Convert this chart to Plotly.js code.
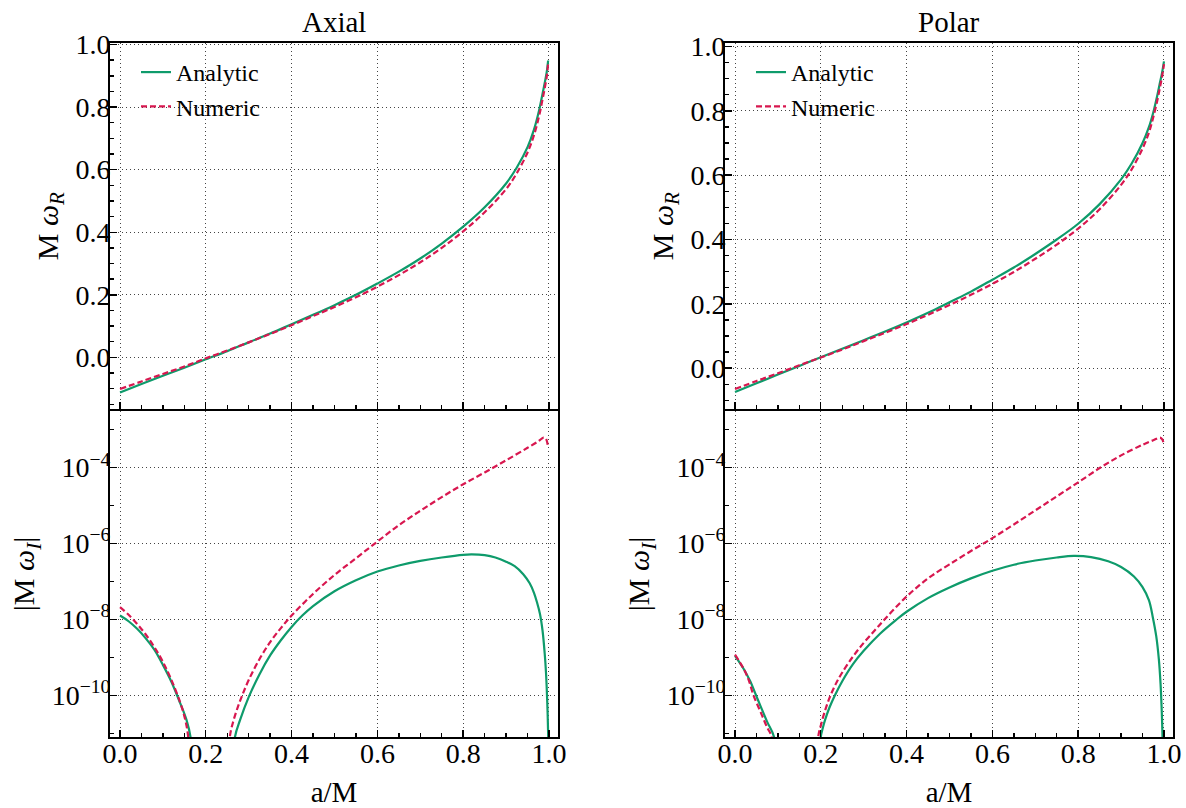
<!DOCTYPE html>
<html>
<head>
<meta charset="utf-8">
<script src="https://cdn.plot.ly/plotly-3.0.1.min.js"></script>
<style>html,body{margin:0;padding:0;background:#fff;}#chart{width:1186px;height:808px;}</style>
</head>
<body>
<div id="chart"></div>
<script>
// ---------------- DATA ----------------
const panelTitles = ["Axial", "Polar"];
const seriesNames = ["Analytic", "Numeric"];
const xTickVals = [0, 0.2, 0.4, 0.6, 0.8, 1.0];
const yTopTickVals = [0, 0.2, 0.4, 0.6, 0.8, 1.0];
const yLogTickVals = [1e-10, 1e-8, 1e-6, 1e-4];
const yLogTickText = ["10<sup>−10</sup>", "10<sup>−8</sup>", "10<sup>−6</sup>", "10<sup>−4</sup>"];
const yLogMinorVals = [1e-11, 1e-9, 1e-7, 1e-5, 1e-3];

// Axial, M omega_R
const axialRealX = [0, 0.05, 0.1, 0.15, 0.2, 0.25, 0.3, 0.35, 0.4, 0.45, 0.5, 0.55, 0.6, 0.65, 0.7, 0.75, 0.8, 0.85, 0.9, 0.925, 0.95, 0.965, 0.977, 0.985, 0.99, 0.995, 0.998];
const axialRealAnalytic = [-0.112, -0.085, -0.059, -0.033, -0.006, 0.020, 0.048, 0.076, 0.106, 0.136, 0.167, 0.200, 0.236, 0.274, 0.316, 0.364, 0.418, 0.480, 0.556, 0.607, 0.672, 0.728, 0.790, 0.843, 0.877, 0.915, 0.949];
const axialRealNumeric = [-0.101, -0.077, -0.053, -0.029, -0.003, 0.022, 0.048, 0.075, 0.103, 0.132, 0.161, 0.192, 0.226, 0.263, 0.304, 0.350, 0.403, 0.464, 0.538, 0.589, 0.655, 0.710, 0.772, 0.825, 0.860, 0.900, 0.940];

// Polar, M omega_R
const polarRealX = [0, 0.05, 0.1, 0.15, 0.2, 0.25, 0.3, 0.35, 0.4, 0.45, 0.5, 0.55, 0.6, 0.65, 0.7, 0.75, 0.8, 0.85, 0.9, 0.925, 0.95, 0.965, 0.975, 0.985, 0.99, 0.995, 1.0];
const polarRealAnalytic = [-0.074, -0.047, -0.020, 0.007, 0.034, 0.060, 0.087, 0.114, 0.142, 0.172, 0.205, 0.238, 0.275, 0.313, 0.355, 0.400, 0.449, 0.510, 0.587, 0.637, 0.700, 0.750, 0.795, 0.852, 0.884, 0.915, 0.954];
const polarRealNumeric = [-0.065, -0.040, -0.016, 0.009, 0.033, 0.058, 0.084, 0.110, 0.137, 0.166, 0.196, 0.228, 0.262, 0.299, 0.340, 0.384, 0.434, 0.494, 0.570, 0.619, 0.683, 0.733, 0.780, 0.836, 0.869, 0.903, 0.945];

// |M omega_I| given as log10 exponents; each curve has two branches (it dips through zero)
const axialImagAnalyticX1 = [0, 0.02, 0.04, 0.06, 0.08, 0.10, 0.12, 0.14, 0.155, 0.165, 0.168];
const axialImagAnalyticLog1 = [-7.90, -8.05, -8.25, -8.5, -8.8, -9.2, -9.65, -10.2, -10.65, -11.15, -12.5];
const axialImagAnalyticX2 = [0.264, 0.268, 0.28, 0.30, 0.325, 0.35, 0.375, 0.40, 0.425, 0.45, 0.5, 0.55, 0.6, 0.65, 0.7, 0.75, 0.8, 0.82, 0.85, 0.875, 0.9, 0.92, 0.94, 0.955, 0.965, 0.972, 0.979, 0.985, 0.99, 0.993, 0.996, 0.998, 1.0];
const axialImagAnalyticLog2 = [-12.5, -11.1, -10.65, -10.05, -9.45, -8.95, -8.55, -8.2, -7.9, -7.65, -7.26, -6.97, -6.74, -6.58, -6.46, -6.37, -6.30, -6.29, -6.31, -6.37, -6.48, -6.60, -6.81, -7.05, -7.3, -7.55, -7.86, -8.3, -8.9, -9.4, -10.2, -11.0, -12.5];

const axialImagNumericX1 = [0, 0.02, 0.04, 0.06, 0.08, 0.10, 0.12, 0.14, 0.15, 0.159, 0.162];
const axialImagNumericLog1 = [-7.68, -7.88, -8.12, -8.4, -8.73, -9.12, -9.6, -10.18, -10.55, -11.1, -12.5];
const axialImagNumericX2 = [0.252, 0.256, 0.265, 0.275, 0.285, 0.30, 0.325, 0.35, 0.375, 0.40, 0.45, 0.5, 0.55, 0.6, 0.65, 0.7, 0.75, 0.8, 0.85, 0.9, 0.95, 0.975, 0.987, 0.992, 0.995, 0.998];
const axialImagNumericLog2 = [-12.5, -11.1, -10.65, -10.3, -10.0, -9.6, -9.05, -8.6, -8.23, -7.9, -7.33, -6.83, -6.39, -5.95, -5.52, -5.14, -4.78, -4.44, -4.13, -3.81, -3.48, -3.31, -3.21, -3.23, -3.3, -3.47];

const polarImagAnalyticX1 = [0, 0.02, 0.035, 0.049, 0.06, 0.075, 0.091, 0.095];
const polarImagAnalyticLog1 = [-8.96, -9.3, -9.62, -10.0, -10.3, -10.7, -11.1, -12.5];
const polarImagAnalyticX2 = [0.197, 0.20, 0.205, 0.21, 0.22, 0.233, 0.25, 0.275, 0.3, 0.338, 0.375, 0.4, 0.45, 0.5, 0.55, 0.6, 0.65, 0.7, 0.75, 0.79, 0.83, 0.87, 0.9, 0.93, 0.95, 0.965, 0.974, 0.982, 0.988, 0.992, 0.995, 0.997, 0.999];
const polarImagAnalyticLog2 = [-12.5, -11.1, -10.85, -10.65, -10.33, -10.0, -9.63, -9.18, -8.83, -8.38, -8.02, -7.8, -7.44, -7.16, -6.92, -6.72, -6.56, -6.45, -6.37, -6.33, -6.36, -6.47, -6.62, -6.87, -7.15, -7.5, -7.95, -8.45, -9.05, -9.7, -10.5, -11.3, -12.5];

const polarImagNumericX1 = [0, 0.02, 0.032, 0.043, 0.06, 0.075, 0.0855, 0.089];
const polarImagNumericLog1 = [-8.93, -9.3, -9.6, -10.0, -10.45, -10.85, -11.1, -12.5];
const polarImagNumericX2 = [0.19, 0.194, 0.2, 0.21, 0.221, 0.235, 0.25, 0.275, 0.3, 0.325, 0.344, 0.37, 0.4, 0.43, 0.46, 0.5, 0.55, 0.6, 0.65, 0.7, 0.75, 0.8, 0.852, 0.9, 0.95, 0.975, 0.991, 0.996, 1.0];
const polarImagNumericLog2 = [-12.5, -11.1, -10.8, -10.4, -10.05, -9.7, -9.4, -8.98, -8.62, -8.3, -8.06, -7.74, -7.4, -7.1, -6.84, -6.55, -6.2, -5.86, -5.5, -5.13, -4.76, -4.39, -4.0, -3.68, -3.4, -3.28, -3.21, -3.26, -3.39];

// ---------------- STYLE ----------------
const W = 1186, H = 808;
const GREEN = '#0E9B6B', RED = '#D8174F';
const FONT = '"Liberation Serif", "Times New Roman", serif';
const px2x = p => p / W;
const px2y = p => 1 - p / H;

const leftX = [px2x(110), px2x(558)];
const rightX = [px2x(725), px2x(1173)];
const topY = [px2y(409), px2y(43.3)];
const botY = [px2y(737), px2y(411)];

function pow10(a) { return a.map(v => Math.pow(10, v)); }
function joinBranches(x1, y1, x2, y2) { return { x: x1.concat([null], x2), y: y1.concat([null], y2) }; }

const greenLine = { color: GREEN, width: 2.2, shape: 'spline', smoothing: 1 };
const redLine = { color: RED, width: 2.2, dash: '6px,3px', shape: 'spline', smoothing: 1 };

const aiA = joinBranches(axialImagAnalyticX1, pow10(axialImagAnalyticLog1), axialImagAnalyticX2, pow10(axialImagAnalyticLog2));
const aiN = joinBranches(axialImagNumericX1, pow10(axialImagNumericLog1), axialImagNumericX2, pow10(axialImagNumericLog2));
const piA = joinBranches(polarImagAnalyticX1, pow10(polarImagAnalyticLog1), polarImagAnalyticX2, pow10(polarImagAnalyticLog2));
const piN = joinBranches(polarImagNumericX1, pow10(polarImagNumericLog1), polarImagNumericX2, pow10(polarImagNumericLog2));

const data = [
  { x: axialRealX, y: axialRealAnalytic, xaxis: 'x', yaxis: 'y', mode: 'lines', name: seriesNames[0], line: greenLine, legend: 'legend' },
  { x: axialRealX, y: axialRealNumeric, xaxis: 'x', yaxis: 'y', mode: 'lines', name: seriesNames[1], line: redLine, legend: 'legend' },
  { x: aiA.x, y: aiA.y, xaxis: 'x2', yaxis: 'y2', mode: 'lines', name: seriesNames[0], line: greenLine, showlegend: false, connectgaps: false },
  { x: aiN.x, y: aiN.y, xaxis: 'x2', yaxis: 'y2', mode: 'lines', name: seriesNames[1], line: redLine, showlegend: false, connectgaps: false },
  { x: polarRealX, y: polarRealAnalytic, xaxis: 'x3', yaxis: 'y3', mode: 'lines', name: seriesNames[0], line: greenLine, legend: 'legend2' },
  { x: polarRealX, y: polarRealNumeric, xaxis: 'x3', yaxis: 'y3', mode: 'lines', name: seriesNames[1], line: redLine, legend: 'legend2' },
  { x: piA.x, y: piA.y, xaxis: 'x4', yaxis: 'y4', mode: 'lines', name: seriesNames[0], line: greenLine, showlegend: false, connectgaps: false },
  { x: piN.x, y: piN.y, xaxis: 'x4', yaxis: 'y4', mode: 'lines', name: seriesNames[1], line: redLine, showlegend: false, connectgaps: false }
];
data.forEach(t => { t.hoverinfo = 'skip'; });

const minorTicks = { ticks: 'inside', ticklen: 4, tickwidth: 1.4, tickcolor: '#000', showgrid: false };
const common = {
  showline: true, mirror: true, linewidth: 2, linecolor: '#000',
  ticks: 'inside', ticklen: 7, tickwidth: 1.4, tickcolor: '#000',
  showgrid: true, gridcolor: '#444', griddash: '1px,3px', gridwidth: 1,
  zeroline: false, automargin: false,
  tickfont: { family: FONT, size: 28, color: '#000' }
};
function xAx(domain, anchor, labels) {
  const ax = Object.assign({}, common, {
    domain: domain, anchor: anchor, range: [-0.0233, 1.021],
    tickmode: 'array', tickvals: xTickVals, ticktext: xTickVals.map(v => v.toFixed(1)),
    showticklabels: labels, ticklabelstandoff: -10,
    minor: Object.assign({ dtick: 0.05, tick0: 0 }, minorTicks)
  });
  if (labels) ax.title = { text: 'a/M', font: { family: FONT, size: 29, color: '#000' }, standoff: 16 };
  return ax;
}
function yTop(domain, anchor, range) {
  return Object.assign({}, common, {
    domain: domain, anchor: anchor, range: range,
    tickmode: 'array', tickvals: yTopTickVals, ticktext: yTopTickVals.map(v => v.toFixed(1)),
    ticklabelstandoff: -8,
    minor: Object.assign({ dtick: 0.05, tick0: 0 }, minorTicks),
    title: { text: 'M <i>ω</i><sub><i>R</i></sub>', font: { family: FONT, size: 30, color: '#000' }, standoff: 8 }
  });
}
function yBot(domain, anchor) {
  return Object.assign({}, common, {
    domain: domain, anchor: anchor, type: 'log', range: [-11.1, -2.51],
    tickmode: 'array', tickvals: yLogTickVals, ticktext: yLogTickText,
    ticklabelstandoff: -8,
    minor: Object.assign({ tickvals: yLogMinorVals }, minorTicks),
    title: { text: '|M <i>ω</i><sub><i>I</i></sub>|', font: { family: FONT, size: 30, color: '#000' }, standoff: 8 }
  });
}

const legendBase = {
  xanchor: 'left', yanchor: 'top', bgcolor: 'rgba(0,0,0,0)', borderwidth: 0,
  font: { family: FONT, size: 24, color: '#000' }, tracegroupgap: 0, itemwidth: 30
};

const layout = {
  width: W, height: H,
  margin: { l: 0, r: 0, t: 0, b: 0 },
  paper_bgcolor: '#fff', plot_bgcolor: '#fff',
  font: { family: FONT, size: 28, color: '#000' },
  showlegend: true,
  xaxis: xAx(leftX, 'y', false),
  yaxis: yTop(topY, 'x', [-0.165, 1.004]),
  xaxis2: xAx(leftX, 'y2', true),
  yaxis2: yBot(botY, 'x2'),
  xaxis3: xAx(rightX, 'y3', false),
  yaxis3: yTop(topY, 'x3', [-0.127, 1.01]),
  xaxis4: xAx(rightX, 'y4', true),
  yaxis4: yBot(botY, 'x4'),
  legend: Object.assign({}, legendBase, { x: px2x(136), y: px2y(50) }),
  legend2: Object.assign({}, legendBase, { x: px2x(751), y: px2y(50) }),
  annotations: [
    { text: panelTitles[0], x: px2x(334), y: px2y(22), xref: 'paper', yref: 'paper', xanchor: 'center', yanchor: 'middle', showarrow: false, font: { family: FONT, size: 29, color: '#000' } },
    { text: panelTitles[1], x: px2x(949), y: px2y(22), xref: 'paper', yref: 'paper', xanchor: 'center', yanchor: 'middle', showarrow: false, font: { family: FONT, size: 29, color: '#000' } }
  ]
};

Plotly.newPlot('chart', data, layout, { displayModeBar: false, staticPlot: true });
</script>
</body>
</html>
